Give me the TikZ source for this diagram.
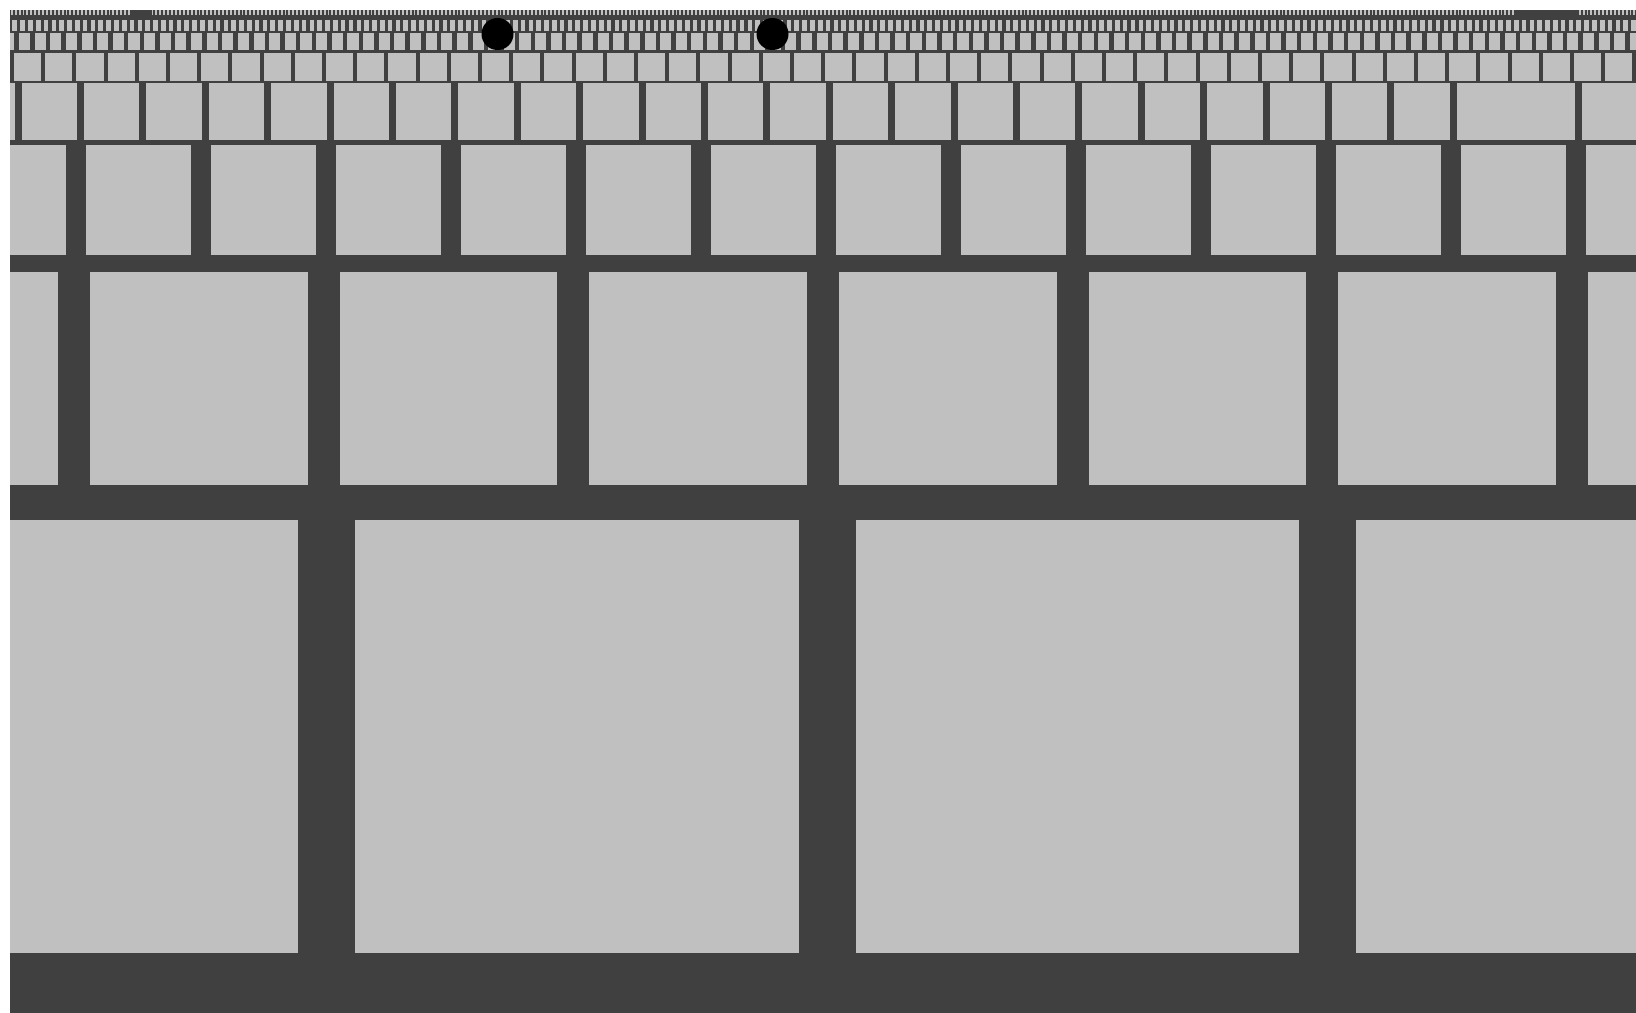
\documentclass[tikz,border=0pt]{standalone}
\definecolor{WallDark}{HTML}{404040}
\definecolor{WallTile}{HTML}{C0C0C0}

\begin{document}
\begin{tikzpicture}[
    x=0.02cm,
    y=-0.02cm,
    mortar/.style={fill=WallDark},
    tile/.style={fill=WallTile},
    dot/.style={fill=black}
]
\useasboundingbox (0,0) rectangle (1636,1013);

% Mortar bed behind every course of the wall.
\fill[mortar] (10,10) rectangle (1636,1013);

\begin{scope}
\clip (10,10) rectangle (1636,1013);
% Courses: top/bottom edge, joint period, first joint, joint width, count.
\foreach \ytop/\ybot/\p/\c/\w/\n in {
    520/953/500.5/326.5/57/3,
    272/485/249.67/74/32/7,
    145/255/125/76/20/13,
    83.5/140/62.4/18/7/26,
    53/81.5/31.2/12/4/52,
    33.5/50/15.64/16.7/4.5/104,
    20.5/31.5/7.82/3/3.2/209,
    10/15.5/3.91/2/2/418} {
    \foreach \k in {0,...,\n} {
        \fill[tile] ({\c+(\k-1)*\p+\w/2},\ytop)
              rectangle ({\c+\k*\p-\w/2},\ybot);
    }
}
% One missing joint near the right end of the fourth course.
\fill[tile] ({18+24*62.4-4},83.5) rectangle ({18+24*62.4+4},140);
% Gaps in the topmost course.
\fill[mortar] (130,10) rectangle (150,15.5);
\fill[mortar] (1516,10) rectangle (1579,15.5);
\end{scope}

\fill[dot] (497.5,34) circle (16);
\fill[dot] (772.5,34) circle (16);
\end{tikzpicture}
\end{document}
